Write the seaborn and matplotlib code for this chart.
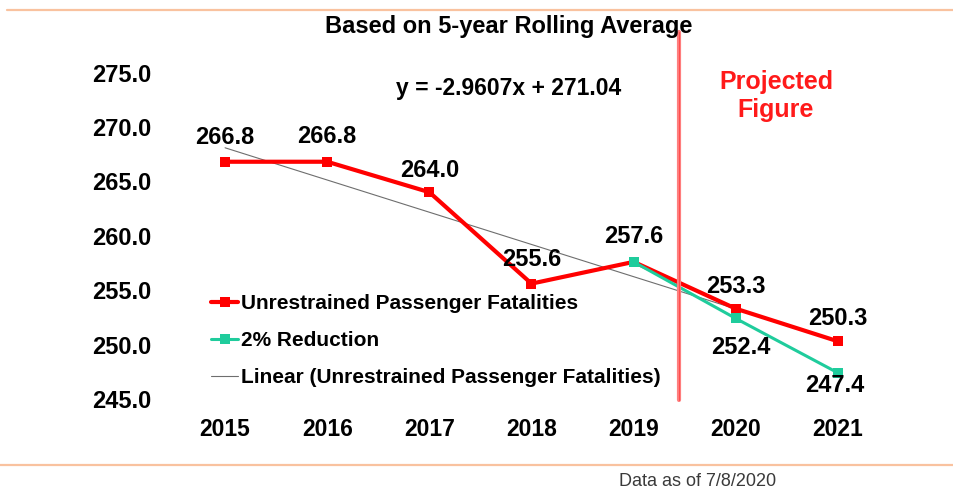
import numpy as np
import pandas as pd
import seaborn as sns
import matplotlib.pyplot as plt
from matplotlib.lines import Line2D

# Chart data
years = ['2015', '2016', '2017', '2018', '2019', '2020', '2021']
unrestrained = [266.8, 266.8, 264.0, 255.6, 257.6, 253.3, 250.3]
reduction_years = ['2019', '2020', '2021']
reduction = [257.6, 252.4, 247.4]
y_ticks = [245.0, 250.0, 255.0, 260.0, 265.0, 270.0, 275.0]

# Label offsets in pixels (dx, dy), y pointing down
red_offsets = [(0, -24), (0, -25), (0, -22), (0, -24), (0, -25), (0, -22), (0, -23)]
green_offsets = [None, (5, 29), (-3, 13)]

sns.set_style('white')
plt.rcParams['font.family'] = ['Liberation Sans', 'DejaVu Sans']
plt.rcParams['text.color'] = 'black'
plt.rcParams['xtick.color'] = 'black'
plt.rcParams['ytick.color'] = 'black'

fig = plt.figure(figsize=(9.54, 4.91), dpi=100)
ax = fig.add_axes([174 / 954, 1 - 399 / 491, (889 - 174) / 954, (399 - 72.5) / 491])

idx = np.arange(len(years))
df_red = pd.DataFrame({'x': idx, 'y': unrestrained})
df_green = pd.DataFrame({'x': [years.index(y) for y in reduction_years], 'y': reduction})

red = '#ff0000'
green = '#1fcc9c'

# trend line (linear fit of the red series)
sns.regplot(data=df_red, x='x', y='y', scatter=False, ci=None, ax=ax,
            line_kws={'color': '#6e6e6e', 'lw': 0.8})
sns.lineplot(data=df_red, x='x', y='y', ax=ax, color=red, lw=3, marker='s',
             markersize=7.5, markeredgewidth=0)
sns.lineplot(data=df_green, x='x', y='y', ax=ax, color=green, lw=2.2, marker='s',
             markersize=7, markeredgewidth=0)

ax.set_xlim(-0.5, 6.5)
ax.set_ylim(245, 275)
ax.set_xticks(idx)
ax.set_xticklabels(years)
ax.set_yticks(y_ticks)
ax.set_yticklabels([f'{v:.1f}' for v in y_ticks])
ax.set_xlabel('')
ax.set_ylabel('')
ax.tick_params(axis='y', length=0, pad=16, labelsize=17)
ax.tick_params(axis='x', length=0, pad=13.5, labelsize=16.5)
for lab in ax.get_xticklabels() + ax.get_yticklabels():
    lab.set_fontweight('bold')
for s in ax.spines.values():
    s.set_visible(False)

px = 72 / 100
# data labels
for i, v in enumerate(unrestrained):
    dx, dy = red_offsets[i]
    ax.annotate(f'{v:.1f}', (i, v), xytext=(dx * px, -dy * px), textcoords='offset points',
                ha='center', va='center', fontsize=17, fontweight='bold')
for j, v in enumerate(reduction):
    if green_offsets[j] is None:
        continue
    dx, dy = green_offsets[j]
    ax.annotate(f'{v:.1f}', (df_green['x'][j], v), xytext=(dx * px, -dy * px),
                textcoords='offset points', ha='center', va='center', fontsize=17,
                fontweight='bold')

# projected divider
ax.axvline(4.44, ymin=-0.003, ymax=1.124, color='#ff8080', lw=3, clip_on=False)
ax.axvline(4.44, ymin=-0.003, ymax=1.124, color='#ff4d4d', lw=0.8, clip_on=False)

# legend
handles = [
    Line2D([], [], color=red, lw=3, marker='s', markersize=7, markeredgewidth=0),
    Line2D([], [], color=green, lw=2.2, marker='s', markersize=6.5, markeredgewidth=0),
    Line2D([], [], color='#6e6e6e', lw=0.8),
]
labels = ['Unrestrained Passenger Fatalities', '2% Reduction',
          'Linear (Unrestrained Passenger Fatalities)']
leg = ax.legend(handles, labels, loc='upper left', bbox_to_anchor=(211 / 954, 1 - 294 / 491),
                bbox_transform=fig.transFigure, frameon=False, borderpad=0, borderaxespad=0,
                handlelength=1.3, handletextpad=0.15, labelspacing=0.87,
                prop={'size': 15, 'weight': 'bold'})

# texts
fig.text(509 / 954, 1 - 27 / 491, 'Based on 5-year Rolling Average', ha='center', va='center',
         fontsize=17, fontweight='bold')
fig.text(509 / 954, 1 - 89 / 491, 'y = -2.9607x + 271.04', ha='center', va='center',
         fontsize=16.5, fontweight='bold')
fig.text(776 / 954, 1 - 96 / 491, 'Projected\nFigure', ha='center', va='center',
         fontsize=18, fontweight='bold', color='#ff1a1a', linespacing=1.2)
fig.text(698 / 954, 1 - 482 / 491, 'Data as of 7/8/2020', ha='center', va='center',
         fontsize=13, color='#3a3a3a')

# orange rules
fig.add_artist(Line2D([7 / 954, 1], [1 - 10 / 491] * 2, color='#f9c29f', lw=1.6))
fig.add_artist(Line2D([0, 1], [1 - 465 / 491] * 2, color='#f9c29f', lw=1.6))

fig.savefig('out.png', dpi=100)
